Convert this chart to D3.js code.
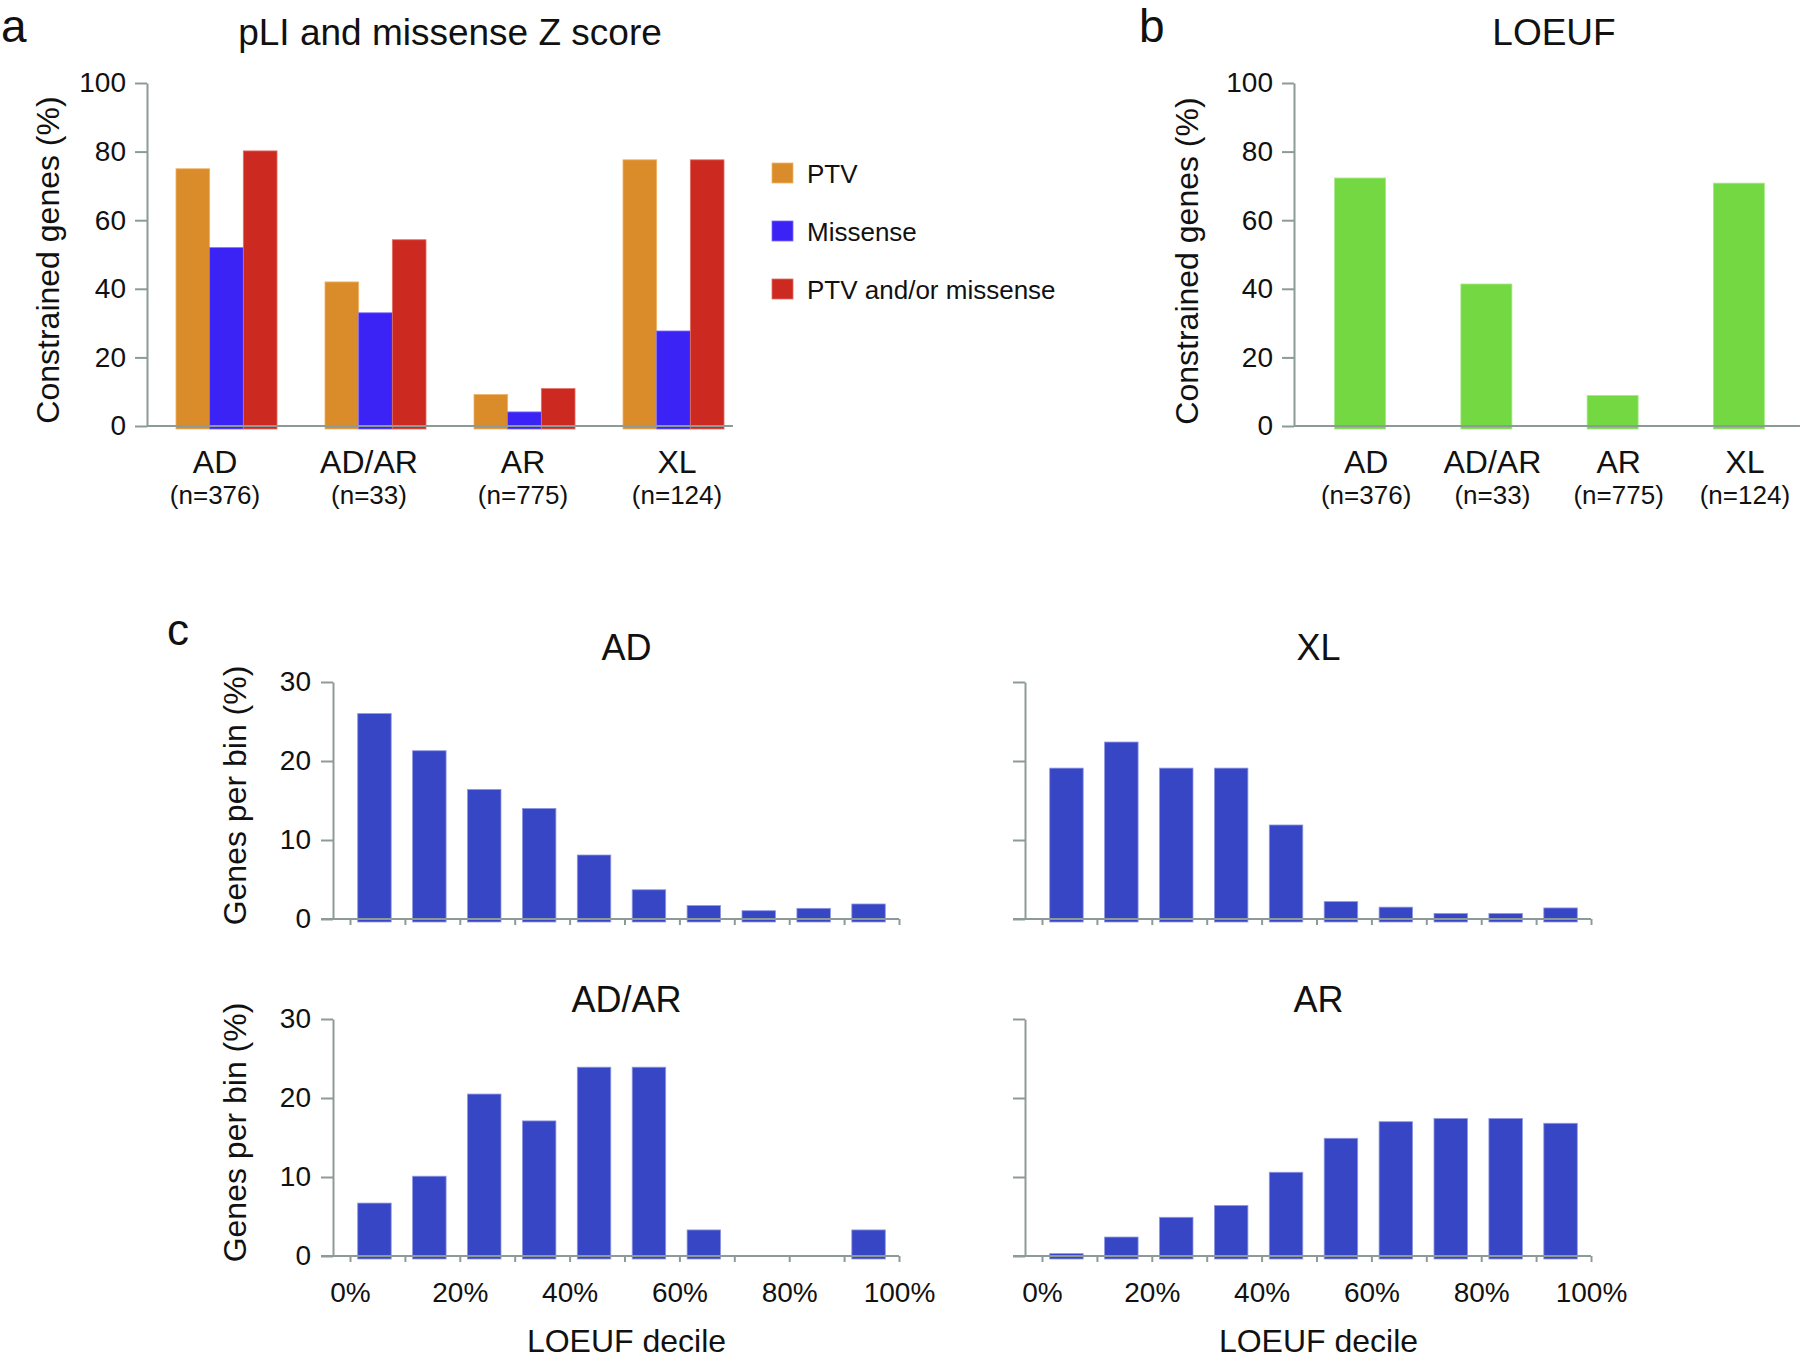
<!DOCTYPE html>
<html>
<head>
<meta charset="utf-8">
<script src="https://cdn.jsdelivr.net/npm/d3@7/dist/d3.min.js"></script>
<style>
  html, body { margin: 0; padding: 0; background: #fff; }
  svg text { font-family: 'Liberation Sans', Arial, Helvetica, sans-serif; fill: #111; }
</style>
</head>
<body>
<svg id="chart" width="1800" height="1360"></svg>
<script>
// Inheritance groups
const groups = ['AD', 'AD/AR', 'AR', 'XL'];
const groupN = ['(n=376)', '(n=33)', '(n=775)', '(n=124)'];

// Panel a: constrained genes (%) by pLI / missense Z
const seriesNames = ['PTV', 'Missense', 'PTV and/or missense'];
const ptvValues = [75.0, 42.0, 9.2, 77.6];
const missenseValues = [52.0, 33.0, 4.1, 27.7];
const ptvOrMissenseValues = [80.2, 54.3, 10.9, 77.6];

// Panel b: constrained genes (%) by LOEUF
const loeufValues = [72.3, 41.4, 8.9, 70.8];

// Panel c: genes per LOEUF decile bin (%)
const decileBins = [0, 1, 2, 3, 4, 5, 6, 7, 8, 9];
const adBins = [26.0, 21.3, 16.4, 14.0, 8.1, 3.7, 1.7, 1.05, 1.35, 1.9];
const xlBins = [19.1, 22.4, 19.1, 19.1, 11.9, 2.2, 1.5, 0.7, 0.7, 1.4];
const adarBins = [6.7, 10.1, 20.5, 17.1, 23.9, 23.9, 3.3, 0, 0, 3.3];
const arBins = [0.3, 2.4, 4.9, 6.4, 10.6, 14.9, 17.0, 17.4, 17.4, 16.8];

const pctTicks = [0, 20, 40, 60, 80, 100];
const binTicks = [0, 10, 20, 30];
const decileTicks = [0, 10, 20, 30, 40, 50, 60, 70, 80, 90, 100];

const color = {
  ptv: '#d98c29',
  missense: '#3b22f5',
  both: '#cc2a21',
  loeuf: '#74d842',
  bin: '#3746c5',
  axis: '#8c9b97'
};
const seriesColors = [color.ptv, color.missense, color.both];
const seriesStroke = ['#f0b36a', '#7c6cf7', '#e26d64'];

const svg = d3.select('#chart');

function styleAxis(g, fontSize) {
  g.selectAll('path.domain').attr('stroke', color.axis).attr('stroke-width', 2);
  g.selectAll('.tick line').attr('stroke', color.axis).attr('stroke-width', 2);
  g.selectAll('.tick text')
    .attr('font-size', fontSize)
    .attr('fill', '#111')
    .attr('font-family', "'Liberation Sans', Arial, sans-serif");
}

function yTitle(text, x, y) {
  svg
    .append('text')
    .attr('transform', `translate(${x}, ${y}) rotate(-90)`)
    .attr('text-anchor', 'middle')
    .attr('font-size', 32)
    .text(text);
}

function panelLetter(text, x, y, size) {
  svg
    .append('text')
    .attr('x', x)
    .attr('y', y)
    .attr('font-size', size)
    .text(text);
}

// shared y scale for panels a and b
const yPct = d3.scaleLinear().domain([0, 100]).range([426, 83]);

function drawPctAxis(axisX, xEnd) {
  const g = svg.append('g').attr('transform', `translate(${axisX}, 0)`);
  g.call(
    d3
      .axisLeft(yPct)
      .tickValues(pctTicks)
      .tickSize(12)
      .tickSizeOuter(0)
      .tickPadding(9)
  );
  styleAxis(g, 28);
  svg
    .append('line')
    .attr('x1', axisX)
    .attr('x2', xEnd)
    .attr('y1', yPct(0))
    .attr('y2', yPct(0))
    .attr('stroke', color.axis)
    .attr('stroke-width', 2);
}

function groupLabels(labelX) {
  const lab = svg
    .selectAll(null)
    .data(groups)
    .enter()
    .append('g')
    .attr('transform', d => `translate(${labelX(d)}, 0)`);
  lab
    .append('text')
    .attr('y', 473)
    .attr('text-anchor', 'middle')
    .attr('font-size', 32)
    .text(d => d);
  lab
    .append('text')
    .attr('y', 504)
    .attr('text-anchor', 'middle')
    .attr('font-size', 26)
    .text((d, i) => groupN[i]);
}

// ---------- panel a ----------
(function drawPanelA() {
  const x0 = d3
    .scaleBand()
    .domain(groups)
    .range([152, 748])
    .paddingInner(0.322)
    .paddingOuter(0.161);
  const x1 = d3
    .scaleBand()
    .domain(seriesNames)
    .range([0, x0.bandwidth()]);
  const labelX = d3.scalePoint().domain(groups).range([138, 754]).padding(0.5);

  const rows = groups.map((g, i) => ({
    group: g,
    values: [ptvValues[i], missenseValues[i], ptvOrMissenseValues[i]]
  }));

  const gg = svg
    .selectAll('g.groupA')
    .data(rows)
    .enter()
    .append('g')
    .attr('class', 'groupA')
    .attr('transform', d => `translate(${x0(d.group)}, 0)`);

  gg.selectAll('rect')
    .data(d => d.values.map((v, j) => ({ name: seriesNames[j], value: v, j })))
    .enter()
    .append('rect')
    .attr('x', d => x1(d.name))
    .attr('width', x1.bandwidth())
    .attr('y', d => yPct(d.value))
    .attr('height', d => yPct(0) - yPct(d.value) + 3)
    .attr('fill', d => seriesColors[d.j])
    .attr('stroke', d => seriesStroke[d.j])
    .attr('stroke-width', 0.8);

  drawPctAxis(147, 733);
  groupLabels(labelX);

  yTitle('Constrained genes (%)', 59, 260);
  svg
    .append('text')
    .attr('x', 450)
    .attr('y', 45)
    .attr('text-anchor', 'middle')
    .attr('font-size', 37)
    .text('pLI and missense Z score');
  panelLetter('a', 1, 42, 46);

  // legend
  const leg = svg
    .selectAll('g.legend')
    .data(seriesNames)
    .enter()
    .append('g')
    .attr('class', 'legend')
    .attr('transform', (d, i) => `translate(772, ${163 + i * 58})`);
  leg
    .append('rect')
    .attr('width', 21)
    .attr('height', 20)
    .attr('fill', (d, i) => seriesColors[i])
    .attr('stroke', (d, i) => seriesStroke[i])
    .attr('stroke-width', 0.8);
  leg
    .append('text')
    .attr('x', 35)
    .attr('y', 20)
    .attr('font-size', 26)
    .text(d => d);
})();

// ---------- panel b ----------
(function drawPanelB() {
  const x = d3
    .scaleBand()
    .domain(groups)
    .range([1297, 1802])
    .paddingInner(0.596)
    .paddingOuter(0.298);
  const labelX = d3.scalePoint().domain(groups).range([1303, 1808]).padding(0.5);

  svg
    .selectAll('rect.loeuf')
    .data(loeufValues)
    .enter()
    .append('rect')
    .attr('class', 'loeuf')
    .attr('x', (d, i) => x(groups[i]))
    .attr('width', x.bandwidth())
    .attr('y', d => yPct(d))
    .attr('height', d => yPct(0) - yPct(d) + 3)
    .attr('fill', color.loeuf)
    .attr('stroke', '#a6e889')
    .attr('stroke-width', 0.8);

  drawPctAxis(1294, 1800);
  groupLabels(labelX);

  yTitle('Constrained genes (%)', 1198, 261);
  svg
    .append('text')
    .attr('x', 1554)
    .attr('y', 45)
    .attr('text-anchor', 'middle')
    .attr('font-size', 37)
    .text('LOEUF');
  panelLetter('b', 1139, 42, 46);
})();

// ---------- panel c ----------
const decilePanels = [
  { title: 'AD', values: adBins, col: 0, row: 0 },
  { title: 'XL', values: xlBins, col: 1, row: 0 },
  { title: 'AD/AR', values: adarBins, col: 0, row: 1 },
  { title: 'AR', values: arBins, col: 1, row: 1 }
];
const colAxisX = [333, 1025];
const rowBase = [919, 1256];
const rowTitleY = [660, 1012];
const plotH = 237;
const binSpan = 549;

decilePanels.forEach(p => {
  const axisX = colAxisX[p.col];
  const base = rowBase[p.row];
  const xStart = axisX + 17;

  const x = d3.scaleLinear().domain([0, 100]).range([xStart, xStart + binSpan]);
  const xb = d3
    .scaleBand()
    .domain(decileBins)
    .range([xStart - 3, xStart + binSpan - 3])
    .paddingInner(0.39)
    .paddingOuter(0.195);
  const y = d3.scaleLinear().domain([0, 30]).range([base, base - plotH]);

  svg
    .append('g')
    .selectAll('rect')
    .data(p.values)
    .enter()
    .append('rect')
    .attr('x', (d, i) => xb(decileBins[i]))
    .attr('width', xb.bandwidth())
    .attr('y', d => y(d))
    .attr('height', d => (d > 0 ? y(0) - y(d) + 3 : 0))
    .attr('fill', color.bin)
    .attr('stroke', '#8f97e2')
    .attr('stroke-width', 0.8);

  // y axis
  const gy = svg.append('g').attr('transform', `translate(${axisX}, 0)`);
  gy.call(
    d3
      .axisLeft(y)
      .tickValues(binTicks)
      .tickSize(12)
      .tickSizeOuter(0)
      .tickPadding(10)
      .tickFormat(d => (p.col === 0 ? d : ''))
  );
  styleAxis(gy, 28);

  // x axis
  const gx = svg.append('g').attr('transform', `translate(0, ${base})`);
  gx.call(
    d3
      .axisBottom(x)
      .tickValues(decileTicks)
      .tickSize(6)
      .tickSizeOuter(0)
      .tickPadding(20)
      .tickFormat(d => (p.row === 1 && d % 20 === 0 ? d + '%' : ''))
  );
  gx.select('path.domain').remove();
  styleAxis(gx, 28);
  svg
    .append('line')
    .attr('x1', axisX - 12)
    .attr('x2', x(100))
    .attr('y1', base)
    .attr('y2', base)
    .attr('stroke', color.axis)
    .attr('stroke-width', 2);

  svg
    .append('text')
    .attr('x', (x(0) + x(100)) / 2 + 2)
    .attr('y', rowTitleY[p.row])
    .attr('text-anchor', 'middle')
    .attr('font-size', 36)
    .text(p.title);

  if (p.col === 0) {
    yTitle('Genes per bin (%)', 246, base - plotH / 2 - 5);
  }
  if (p.row === 1) {
    svg
      .append('text')
      .attr('x', (x(0) + x(100)) / 2 + 2)
      .attr('y', base + 96)
      .attr('text-anchor', 'middle')
      .attr('font-size', 32)
      .text('LOEUF decile');
  }
});

panelLetter('c', 167, 645, 44);
</script>
</body>
</html>
